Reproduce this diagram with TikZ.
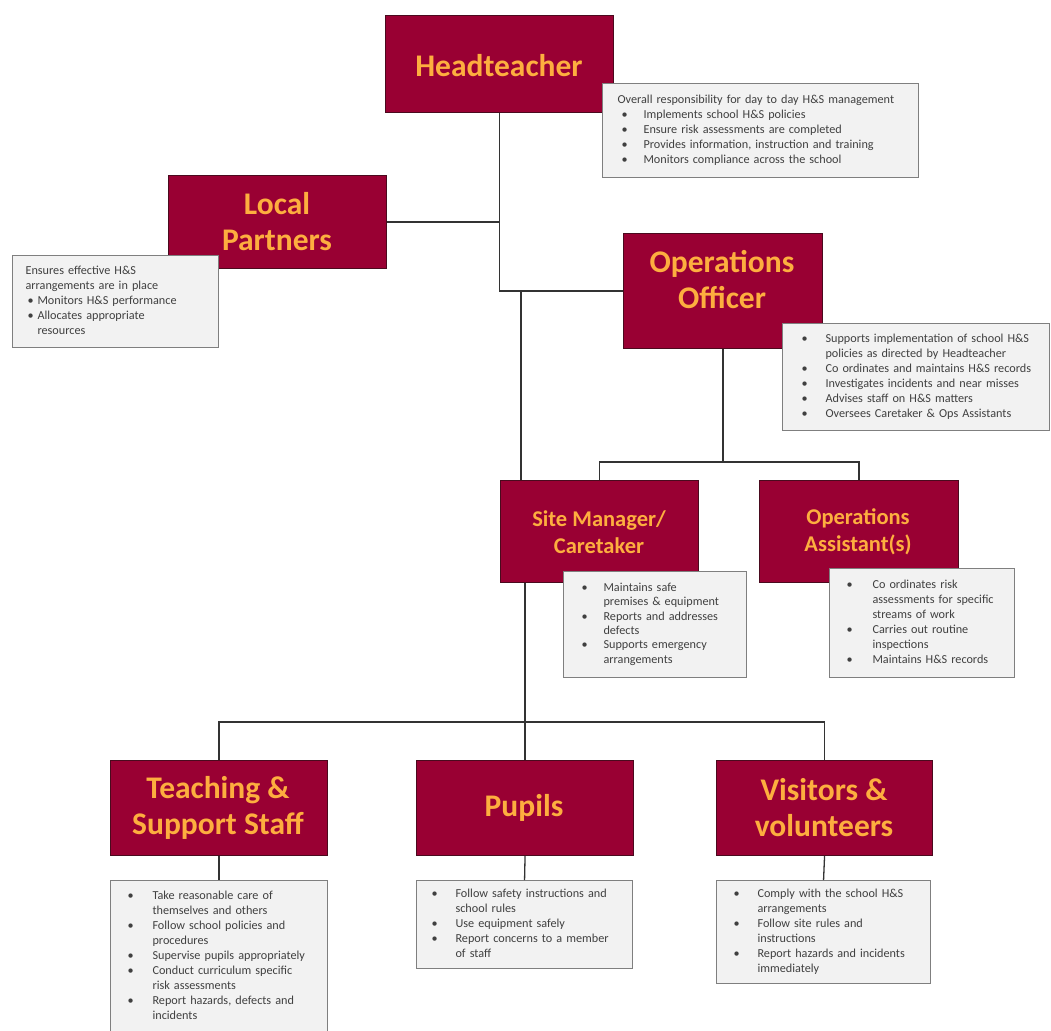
\documentclass[tikz,border=0pt]{standalone}
\usepackage{fontspec}
\setmainfont{Carlito}
\usepackage{array}
\definecolor{hsmaroon}{HTML}{990033}
\definecolor{hsborder}{HTML}{4A0A1E}
\definecolor{hsorange}{HTML}{FDAE3F}
\definecolor{hsinfo}{HTML}{F2F2F2}
\definecolor{hsgray}{HTML}{7F7F7F}
\definecolor{hstext}{HTML}{404040}
\definecolor{hsline}{HTML}{333333}
\tikzset{
  rolebox/.style={draw=hsborder, line width=1.1pt, fill=hsmaroon, inner sep=0pt, anchor=north west},
  roletext/.style={text=hsorange, font=\fontsize{31.5}{36}\selectfont\bfseries, align=center, inner sep=0pt},
  roletextsm/.style={roletext, font=\fontsize{22.5}{27}\selectfont\bfseries},
  infobox/.style={draw=hsgray, line width=1.1pt, fill=hsinfo, text=hstext, font=\fontsize{12.2}{15}\selectfont, align=left, anchor=north west, inner ysep=0pt},
  link/.style={draw=hsline, line width=1.3pt},
}
\begin{document}
\begin{tikzpicture}[x=1pt, y=-1pt]
\useasboundingbox[fill=white] (0,0) rectangle (1051,1030);

% role boxes (positions)
\node[rolebox, minimum width=228pt, minimum height=97pt] (head) at (385,15) {};
\node[rolebox, minimum width=218pt, minimum height=93pt] (local) at (168,175) {};
\node[rolebox, minimum width=199pt, minimum height=115pt] (ops) at (623,233) {};
\node[rolebox, minimum width=198pt, minimum height=102pt] (site) at (500,480) {};
\node[rolebox, minimum width=199pt, minimum height=102pt] (asst) at (759,480) {};
\node[rolebox, minimum width=217pt, minimum height=95pt] (teach) at (110,760) {};
\node[rolebox, minimum width=217pt, minimum height=95pt] (pupils) at (416,760) {};
\node[rolebox, minimum width=216pt, minimum height=95pt] (visit) at (716,760) {};

% coordinates for buses
\coordinate (trunk) at (521,0);
\coordinate (obus) at (0,462);
\coordinate (bbus) at (0,722);

% connectors
\draw[link] (head.south) -- (head.south |- ops.west) -- (ops.west);
\draw[link] (local.east) -- (local.east -| head.south);
\draw[link] (trunk |- ops.west) -- (trunk |- site.north);
\draw[link] (ops.south) -- (ops.south |- obus);
\draw[link] (site.north) -- (site.north |- obus) -- (asst.north |- obus) -- (asst.north);
\draw[link] (pupils.north |- site.south) -- (pupils.north);
\draw[link] (teach.north) -- (teach.north |- bbus) -- (visit.north |- bbus) -- (visit.north);

% redraw role boxes on top of connectors
\node[rolebox, minimum width=228pt, minimum height=97pt] (headB) at (385,15) {};
\node[rolebox, minimum width=218pt, minimum height=93pt] (localB) at (168,175) {};
\node[rolebox, minimum width=199pt, minimum height=115pt] (opsB) at (623,233) {};
\node[rolebox, minimum width=198pt, minimum height=102pt] (siteB) at (500,480) {};
\node[rolebox, minimum width=199pt, minimum height=102pt] (asstB) at (759,480) {};
\node[rolebox, minimum width=217pt, minimum height=95pt] (teachB) at (110,760) {};
\node[rolebox, minimum width=217pt, minimum height=95pt] (pupilsB) at (416,760) {};
\node[rolebox, minimum width=216pt, minimum height=95pt] (visitB) at (716,760) {};

% titles
\node[roletext] (headT) at (499,66) {Headteacher};
\node[roletext] (localT) at (277,222) {Local\\Partners};
\node[roletext] (opsT) at (722,280) {Operations\\Officer};
\node[roletextsm] (siteT) at (599,532) {Site Manager/\\Caretaker};
\node[roletextsm] (asstT) at (858,532) {Operations\\Assistant(s)};
\node[roletext] (teachT) at (218,808) {Teaching \&\\Support Staff};
\node[roletext] (pupilsT) at (524,808) {Pupils};
\node[roletext] (visitT) at (824,808) {Visitors \&\\volunteers};

% info boxes
\node[infobox, minimum width=316pt, minimum height=94pt, inner xsep=15pt, text width=286pt] (hinfo) at (602,83) {%
\begin{tabular}{@{}p{26pt}@{}l@{}}
\multicolumn{2}{@{}l@{}}{Overall responsibility for day to day H\&S management}\\
\hspace*{4pt}\textbullet & Implements school H\&S policies\\
\hspace*{4pt}\textbullet & Ensure risk assessments are completed\\
\hspace*{4pt}\textbullet & Provides information, instruction and training\\
\hspace*{4pt}\textbullet & Monitors compliance across the school
\end{tabular}};

\node[infobox, minimum width=206pt, minimum height=92pt, inner xsep=13pt, text width=180pt] (linfo) at (12,255) {%
\begin{tabular}{@{}p{12pt}@{}l@{}}
\multicolumn{2}{@{}l@{}}{Ensures effective H\&S}\\
\multicolumn{2}{@{}l@{}}{arrangements are in place}\\
\hspace*{2pt}\textbullet & Monitors H\&S performance\\
\hspace*{2pt}\textbullet & Allocates appropriate\\
 & resources
\end{tabular}};

\node[infobox, minimum width=267pt, minimum height=107pt, inner xsep=19pt, text width=229pt] (oinfo) at (782,323) {%
\begin{tabular}{@{}p{24pt}@{}l@{}}
\textbullet & Supports implementation of school H\&S\\
 & policies as directed by Headteacher\\
\textbullet & Co ordinates and maintains H\&S records\\
\textbullet & Investigates incidents and near misses\\
\textbullet & Advises staff on H\&S matters\\
\textbullet & Oversees Caretaker \& Ops Assistants
\end{tabular}};

\node[infobox, minimum width=183pt, minimum height=106pt, inner xsep=18pt, text width=147pt, font=\fontsize{12.2}{14.3}\selectfont] (sinfo) at (563,571) {%
\begin{tabular}{@{}p{22pt}@{}l@{}}
\textbullet & Maintains safe\\
 & premises \& equipment\\
\textbullet & Reports and addresses\\
 & defects\\
\textbullet & Supports emergency\\
 & arrangements
\end{tabular}};

\node[infobox, minimum width=185pt, minimum height=109pt, inner xsep=17pt, text width=151pt] (ainfo) at (829,568) {%
\begin{tabular}{@{}p{26pt}@{}l@{}}
\textbullet & Co ordinates risk\\
 & assessments for specific\\
 & streams of work\\
\textbullet & Carries out routine\\
 & inspections\\
\textbullet & Maintains H\&S records
\end{tabular}};

\node[infobox, minimum width=217pt, minimum height=152pt, inner xsep=17pt, text width=183pt] (tinfo) at (110,880) {%
\begin{tabular}{@{}p{25pt}@{}l@{}}
\textbullet & Take reasonable care of\\
 & themselves and others\\
\textbullet & Follow school policies and\\
 & procedures\\
\textbullet & Supervise pupils appropriately\\
\textbullet & Conduct curriculum specific\\
 & risk assessments\\
\textbullet & Report hazards, defects and\\
 & incidents
\end{tabular}};

\node[infobox, minimum width=216pt, minimum height=88pt, inner xsep=15pt, text width=186pt] (pinfo) at (416,880) {%
\begin{tabular}{@{}p{24pt}@{}l@{}}
\textbullet & Follow safety instructions and\\
 & school rules\\
\textbullet & Use equipment safely\\
\textbullet & Report concerns to a member\\
 & of staff
\end{tabular}};

\node[infobox, minimum width=214pt, minimum height=103pt, inner xsep=17pt, text width=180pt] (vinfo) at (716,880) {%
\begin{tabular}{@{}p{24pt}@{}l@{}}
\textbullet & Comply with the school H\&S\\
 & arrangements\\
\textbullet & Follow site rules and\\
 & instructions\\
\textbullet & Report hazards and incidents\\
 & immediately
\end{tabular}};

% info connectors
\draw[link] (teach.south) -- (tinfo.north);
\draw[link] (pupils.south) -- (pinfo.north);
\draw[link] (visit.south) -- (vinfo.north);
\end{tikzpicture}
\end{document}
